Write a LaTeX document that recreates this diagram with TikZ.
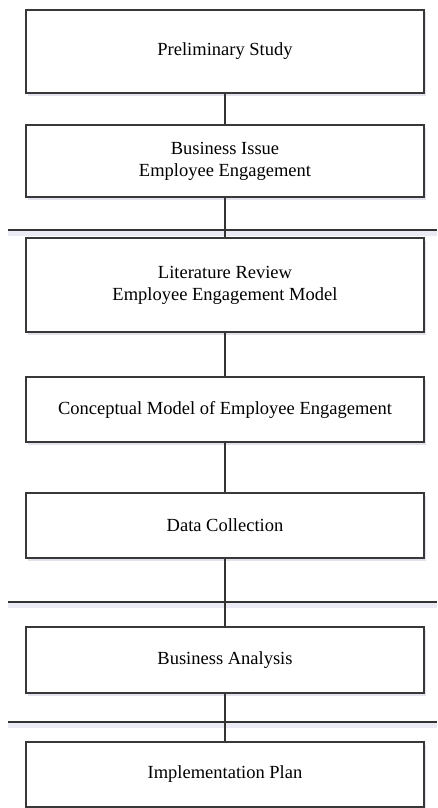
\documentclass[tikz,border=0pt]{standalone}
\usepackage{fontspec}
\setmainfont{Liberation Serif}
\usetikzlibrary{shadows}
\begin{document}
\begin{tikzpicture}[x=1pt,y=-1pt,
  stepbox/.style={draw=black!78, line width=1.3pt, fill=white,
    minimum width=398pt, inner sep=0pt, align=center,
    font=\fontsize{18.5}{22}\selectfont,
    drop shadow={shadow xshift=1.5pt, shadow yshift=-2.5pt, fill=blue!25!gray, opacity=0.18}},
  link/.style={draw=black!80, line width=1.2pt},
  divider/.style={draw=black!80, line width=2pt}]
\useasboundingbox (0,0) rectangle (437,808);
\fill[white] (0,0) rectangle (437,808);

% phase separators
\coordinate (d1l) at (8,230);  \coordinate (d1r) at (437,230);
\coordinate (d2l) at (8,602);  \coordinate (d2r) at (437,602);
\coordinate (d3l) at (8,722);  \coordinate (d3r) at (437,722);
\fill[blue!30!gray, opacity=0.12] (8,231) rectangle (437,236);
\fill[blue!30!gray, opacity=0.12] (8,603) rectangle (437,608);
\fill[blue!30!gray, opacity=0.12] (8,723) rectangle (437,728);

% process steps
\node[stepbox, minimum height=83pt] (s1) at (225,51.5) {Preliminary Study};
\node[stepbox, minimum height=72pt] (s2) at (225,161) {Business Issue\\Employee Engagement};
\node[stepbox, minimum height=94pt] (s3) at (225,285) {Literature Review\\Employee Engagement Model};
\node[stepbox, minimum height=65pt] (s4) at (225,409.5) {Conceptual Model of Employee Engagement};
\node[stepbox, minimum height=65pt] (s5) at (225,525.5) {Data Collection};
\node[stepbox, minimum height=66pt] (s6) at (225,660) {Business Analysis};
\node[stepbox, minimum height=65pt] (s7) at (225,774.5) {Implementation Plan};

% connectors between steps
\draw[link] (s1) -- (s2);
\draw[link] (s2) -- (s3);
\draw[link] (s3) -- (s4);
\draw[link] (s4) -- (s5);
\draw[link] (s5) -- (s6);
\draw[link] (s6) -- (s7);

\draw[divider] (d1l) -- (d1r);
\draw[divider] (d2l) -- (d2r);
\draw[divider] (d3l) -- (d3r);
\end{tikzpicture}
\end{document}
